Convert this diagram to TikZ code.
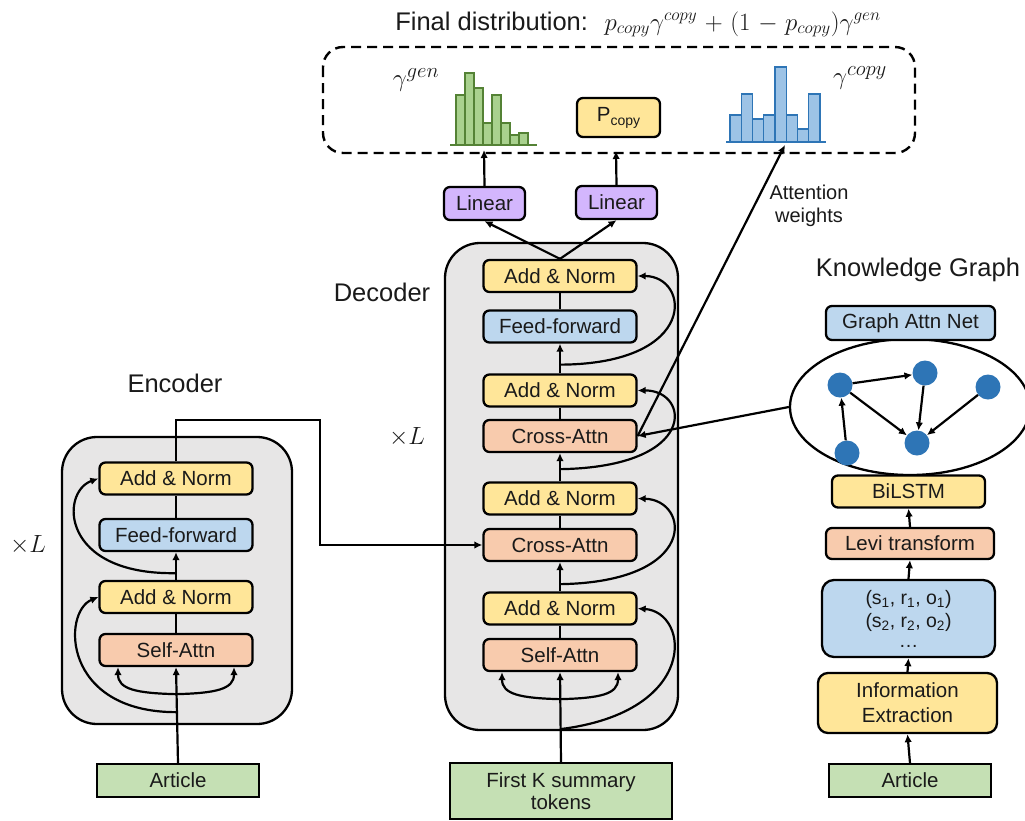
\documentclass[tikz,border=0pt]{standalone}
\usepackage{fontspec}
\setmainfont{Liberation Sans}
\usetikzlibrary{arrows.meta,calc,shapes.geometric}
\definecolor{cyel}{HTML}{FFE699}
\definecolor{cblu}{HTML}{BDD7EE}
\definecolor{csal}{HTML}{F8CBAD}
\definecolor{cgrn}{HTML}{C5E0B4}
\definecolor{cgry}{HTML}{E7E6E6}
\definecolor{cpur}{HTML}{D3B6FD}
\definecolor{hgf}{HTML}{A9D18E}
\definecolor{hgd}{HTML}{548235}
\definecolor{hbf}{HTML}{9DC3E6}
\definecolor{hbd}{HTML}{2E75B6}
\definecolor{gnode}{HTML}{2E75B6}
\definecolor{txt}{HTML}{1A1A1A}
\newcommand\boxfont{\fontsize{20.5}{24}\selectfont}
\newcommand\lblfont{\fontsize{25.5}{30}\selectfont}
\begin{document}
\begin{tikzpicture}[x=1pt,y=-1pt,
  blk/.style={draw, line width=2.3pt, rounded corners=6pt, inner sep=0pt, minimum width=153pt, minimum height=32pt, font=\boxfont, text=txt, align=center},
  inp/.style={draw, line width=1.6pt, fill=cgrn, inner sep=0pt, minimum width=162pt, minimum height=33pt, font=\boxfont, text=txt, align=center},
  ln/.style={line width=2.2pt},
  arr/.style={line width=2.2pt, -{Latex[length=8pt,width=7.5pt]}},
  dbl/.style={line width=2.2pt, {Latex[length=8pt,width=7.5pt]}-{Latex[length=8pt,width=7.5pt]}},
  gn/.style={circle, fill=gnode, minimum size=25pt, inner sep=0pt},
  lbl/.style={font=\lblfont, text=txt, inner sep=0pt}
]
\useasboundingbox (0,0) rectangle (1025,820);

% ---------- title and output box ----------
\node[lbl, anchor=base] (title) at (638,30) {Final distribution:~ {\fontsize{27}{30}\selectfont\medmuskip=5.5mu\relax$p_{copy}\gamma^{copy}+\bigl(1-p_{copy}\bigr)\gamma^{gen}$}};
\draw[line width=2.4pt, dash pattern=on 10pt off 6pt, rounded corners=20pt] (323,47) rectangle (915,153);
\node[lbl, font=\fontsize{28}{30}\selectfont] (ggen) at (416,80) {$\gamma^{gen}$};
\node[lbl, font=\fontsize{28}{30}\selectfont] (gcopy) at (860,78) {$\gamma^{copy}$};

% green histogram
\foreach \h [count=\i from 0] in {50,72,57,22,50,22,10,12}{
  \draw[line width=1.4pt, draw=hgd, fill=hgf] ({456+9*\i},145) rectangle ({465+9*\i},{145-\h});
}
\draw[line width=1.6pt, hgd] (450,145) -- (537,145);
% blue histogram
\foreach \h [count=\i from 0] in {27,48,23,27,75,27,13,48}{
  \draw[line width=1.4pt, draw=hbd, fill=hbf] ({730+11.25*\i},142) rectangle ({741.25+11.25*\i},{142-\h});
}
\draw[line width=1.6pt, hbd] (726,142) -- (826,142);

\node[blk, fill=cyel, minimum width=83pt, minimum height=39pt] (pc) at (618.5,117.5) {P\raisebox{-0.35ex}{\fontsize{14}{14}\selectfont copy}};

\coordinate (gin) at (484,150);
\coordinate (pin) at (616,151);
\coordinate (cin) at (785,145);

% ---------- encoder ----------
\node[lbl] (enclbl) at (175,383) {Encoder};
\node[lbl, font=\fontsize{28}{30}\selectfont] (encL) at (28,545) {$\times L$};
\draw[line width=2.3pt, fill=cgry, rounded corners=35pt] (62,437) rectangle (292,724);
\node[blk, fill=cyel] (eAN2) at (176,478.5) {Add \& Norm};
\node[blk, fill=cblu] (eFF) at (176,535) {Feed-forward};
\node[blk, fill=cyel] (eAN1) at (176,597) {Add \& Norm};
\node[blk, fill=csal] (eSA) at (176,650) {Self-Attn};
\node[inp] (eArt) at (178,780.5) {Article};

\draw[arr] (eArt.north) -- (eSA.south);
\draw[ln] (eSA.north) -- (eAN1.south);
\draw[arr] (eAN1.north) -- (eFF.south);
\draw[ln] (eFF.north) -- (eAN2.south);
\draw[dbl] ($(eSA.south)+(-58,0)$) .. controls ($(eSA.south)+(-58,22)$) and ($(eSA.south)+(-40,26)$) .. ($(eSA.south)+(0,27)$) .. controls ($(eSA.south)+(40,26)$) and ($(eSA.south)+(58,22)$) .. ($(eSA.south)+(58,0)$);
\coordinate (eR1) at ($(eSA.south)+(0,45)$);
\coordinate (eR2) at ($(eFF.south)+(0,21)$);
\draw[arr] (eR1) .. controls (62,712) and (62,612) .. (eAN1.west);
\draw[arr] (eR2) .. controls (60,575) and (60,492) .. (eAN2.west);

% ---------- decoder ----------
\node[lbl] (declbl) at (382,292) {Decoder};
\node[lbl, font=\fontsize{28}{30}\selectfont] (decL) at (407,437) {$\times L$};
\draw[line width=2.3pt, fill=cgry, rounded corners=35pt] (445,243) rectangle (678,730);
\node[blk, fill=cyel] (dAN1) at (560,276) {Add \& Norm};
\node[blk, fill=cblu] (dFF) at (560,326.5) {Feed-forward};
\node[blk, fill=cyel] (dAN2) at (560,390.5) {Add \& Norm};
\node[blk, fill=csal] (dCA2) at (560,436) {Cross-Attn};
\node[blk, fill=cyel] (dAN3) at (560,498.5) {Add \& Norm};
\node[blk, fill=csal] (dCA1) at (560,545) {Cross-Attn};
\node[blk, fill=cyel] (dAN4) at (560,608.5) {Add \& Norm};
\node[blk, fill=csal] (dSA) at (560,655) {Self-Attn};
\node[inp, minimum width=222pt, minimum height=56pt] (dIn) at (561,791) {First K summary\\[-2pt]tokens};

\draw[arr] (dIn.north) -- (dSA.south);
\draw[ln] (dSA.north) -- (dAN4.south);
\draw[arr] (dAN4.north) -- (dCA1.south);
\draw[ln] (dCA1.north) -- (dAN3.south);
\draw[arr] (dAN3.north) -- (dCA2.south);
\draw[ln] (dCA2.north) -- (dAN2.south);
\draw[arr] (dAN2.north) -- (dFF.south);
\draw[ln] (dFF.north) -- (dAN1.south);
\draw[dbl] ($(dSA.south)+(-58,0)$) .. controls ($(dSA.south)+(-58,22)$) and ($(dSA.south)+(-40,26)$) .. ($(dSA.south)+(0,27)$) .. controls ($(dSA.south)+(40,26)$) and ($(dSA.south)+(58,22)$) .. ($(dSA.south)+(58,0)$);

\coordinate (dR4) at ($(dSA.south)+(0,57)$);
\coordinate (dR3) at ($(dCA1.south)+(0,22)$);
\coordinate (dR2) at ($(dCA2.south)+(0,16)$);
\coordinate (dR1) at ($(dFF.south)+(0,21)$);
\draw[arr] (dR4) .. controls (700,712) and (690,612) .. (dAN4.east);
\draw[arr] (dR3) .. controls (700,582) and (690,500) .. (dAN3.east);
\draw[arr] (dR2) .. controls (700,467) and (690,390) .. (dAN2.east);
\draw[arr] (dR1) .. controls (700,364) and (690,276) .. (dAN1.east);

% encoder output to decoder
\coordinate (ebend) at (320,420);
\draw[arr] (eAN2.north) |- (ebend) |- (dCA1.west);

% linear layers
\node[blk, fill=cpur, minimum width=81pt, minimum height=33pt] (L1) at (484.5,203.5) {Linear};
\node[blk, fill=cpur, minimum width=81pt, minimum height=33pt] (L2) at (616.5,202.5) {Linear};
\draw[arr] (dAN1.north) -- (L1.south);
\draw[arr] (dAN1.north) -- (L2.south);
\draw[arr] (L1.north) -- (gin);
\draw[arr] (L2.north) -- (pin);
\draw[arr] (dCA2.east) -- (cin);
\node[font=\fontsize{20}{23}\selectfont, text=txt, align=center, inner sep=0pt] (attw) at (809,206) {Attention\\weights};

% ---------- knowledge graph ----------
\node[lbl] (kglbl) at (918,270) {Knowledge Graph};
\node[draw, line width=2.3pt, ellipse, minimum width=240pt, minimum height=136pt, inner sep=0pt] (kg) at (910,407) {};
\node[blk, fill=cblu, minimum width=169pt, minimum height=34pt] (gan) at (910.5,323) {Graph Attn Net};
\node[blk, fill=cyel] (bil) at (908.5,491.5) {BiLSTM};
\node[blk, fill=csal, minimum width=168pt, minimum height=31pt] (levi) at (910,543.5) {Levi transform};
\node[blk, fill=cblu, minimum width=173pt, minimum height=77pt, rounded corners=12pt, font=\fontsize{19.5}{22}\selectfont] (tri) at (908.5,618.5) {(s\textsubscript{1}, r\textsubscript{1}, o\textsubscript{1})\\[1pt](s\textsubscript{2}, r\textsubscript{2}, o\textsubscript{2})\\[-2pt]\dots};
\node[blk, fill=cyel, minimum width=179pt, minimum height=60pt, rounded corners=10pt] (ie) at (907.5,703) {Information\\[1pt]Extraction};
\node[inp] (kArt) at (910,780.5) {Article};
\draw[arr] (kArt.north) -- (ie.south);
\draw[arr] (ie.north) -- (tri.south);
\draw[arr] (tri.north) -- (levi.south);
\draw[arr] (levi.north) -- (bil.south);

\node[gn] (nA) at (840,385) {};
\node[gn] (nB) at (925,373) {};
\node[gn] (nC) at (988,387) {};
\node[gn] (nD) at (917,443) {};
\node[gn] (nE) at (847,453) {};
\draw[arr] (nA) -- (nB);
\draw[arr] (nA) -- (nD);
\draw[arr] (nB) -- (nD);
\draw[arr] (nC) -- (nD);
\draw[arr] (nE) -- (nA);

\draw[arr] (kg.west) -- (dCA2.east);
\end{tikzpicture}
\end{document}
